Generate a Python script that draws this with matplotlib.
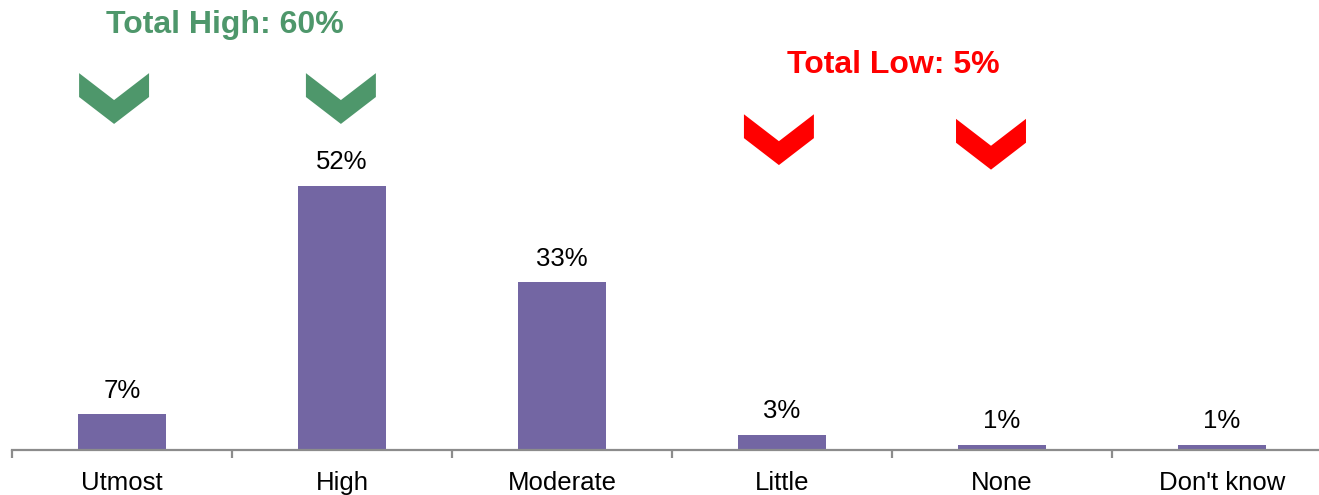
import matplotlib
matplotlib.use("Agg")
import matplotlib.pyplot as plt
from matplotlib.patches import Polygon

plt.rcParams['font.family'] = ['Liberation Sans', 'DejaVu Sans']

categories = ["Utmost", "High", "Moderate", "Little", "None", "Don't know"]
values = [7, 52, 33, 3, 1, 1]
value_labels = ["7%", "52%", "33%", "3%", "1%", "1%"]

high_text = "Total High: 60%"
low_text = "Total Low: 5%"

# chevron annotations: (x centre in category units, top in % units, colour)
chevron_x = [-0.036, 0.995, 2.986, 3.95]
chevron_top = [74.2, 74.2, 66.1, 65.2]
chevron_colors = ["#4E976B", "#4E976B", "#FF0000", "#FF0000"]

bar_color = "#7366A3"
axis_color = "#8C8C8C"

W, H = 1319, 495
fig = plt.figure(figsize=(W / 100, H / 100), dpi=100)
ax = fig.add_axes([12 / W, 45 / H, 1320 / W, 450 / H])

x = list(range(len(categories)))
ax.bar(x, values, width=0.4, color=bar_color, zorder=2)
for xi, v, lab in zip(x, values, value_labels):
    ax.annotate(lab, (xi, v), xytext=(0, 8.5), textcoords="offset points",
                ha="center", va="bottom", fontsize=18.5, color="black")

ax.set_xlim(-0.5, 5.5)
ax.set_ylim(0, 88.6)

for s in ["top", "right", "left"]:
    ax.spines[s].set_visible(False)
ax.spines["bottom"].set_color(axis_color)
ax.spines["bottom"].set_linewidth(1.6)
ax.set_yticks([])

ax.set_xticks(x)
ax.set_xticklabels(categories, fontsize=18.5)
ax.tick_params(axis="x", which="major", length=0, pad=15)
ax.set_xticks([i - 0.5 for i in range(len(categories) + 1)], minor=True)
ax.tick_params(axis="x", which="minor", length=6, width=1.6, color=axis_color, direction="out")

# chevrons
hw = 0.159
for cx, top, col in zip(chevron_x, chevron_top, chevron_colors):
    pts = [(cx - hw, top), (cx, top - 5.3), (cx + hw, top), (cx + hw, top - 4.7),
           (cx, top - 10.0), (cx - hw, top - 4.7)]
    ax.add_patch(Polygon(pts, closed=True, facecolor=col, edgecolor="none", clip_on=False))

fig.text(225 / W, 1 - 25 / H, high_text, ha="center", va="center",
         fontsize=23, fontweight="bold", color="#4E976B")
fig.text(893 / W, 1 - 65 / H, low_text, ha="center", va="center",
         fontsize=23, fontweight="bold", color="#FF0000")

fig.savefig("out.png", dpi=100)
